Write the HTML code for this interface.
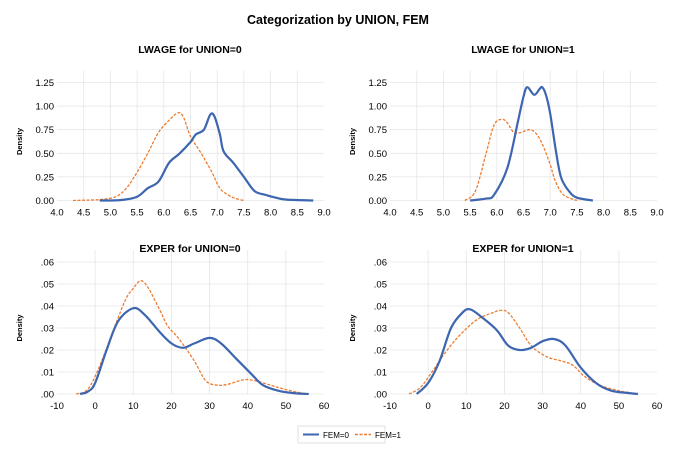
<!DOCTYPE html>
<html><head><meta charset="utf-8"><style>
body{margin:0;background:#fff;font-family:"Liberation Sans",sans-serif;}
svg text{font-family:"Liberation Sans",sans-serif;}
</style></head><body>
<svg id="s" width="677" height="457" xmlns="http://www.w3.org/2000/svg">
<rect width="677" height="457" fill="#fff"/>
<text x="338" y="24" font-size="12.5" font-weight="bold" text-anchor="middle" fill="#000">Categorization by UNION, FEM</text>
<text x="190" y="53" font-size="10.5" font-weight="bold" text-anchor="middle">LWAGE for UNION=0</text>
<text x="523" y="53" font-size="10.5" font-weight="bold" text-anchor="middle">LWAGE for UNION=1</text>
<text x="190" y="252" font-size="10.5" font-weight="bold" text-anchor="middle">EXPER for UNION=0</text>
<text x="523" y="252" font-size="10.5" font-weight="bold" text-anchor="middle">EXPER for UNION=1</text>
<g id="g"></g>
<rect x="298" y="426" width="87" height="17" fill="#fff" stroke="#e0e0e0"/>
<line x1="303" y1="434.5" x2="319" y2="434.5" stroke="#3d66b0" stroke-width="2"/>
<text x="323" y="438" font-size="8">FEM=0</text>
<line x1="355" y1="434.5" x2="371" y2="434.5" stroke="#ed7d31" stroke-width="1.5" stroke-dasharray="3,1.5"/>
<text x="375" y="438" font-size="8">FEM=1</text>
</svg>
<script>
var g=document.getElementById('g'),h='';
function sm(p){var d='M'+p[0][0].toFixed(1)+','+p[0][1].toFixed(1);for(var i=0;i<p.length-1;i++){var a=p[i-1]||p[i],b=p[i],c=p[i+1],e=p[i+2]||c;d+='C'+(b[0]+(c[0]-a[0])/6).toFixed(1)+','+(b[1]+(c[1]-a[1])/6).toFixed(1)+' '+(c[0]-(e[0]-b[0])/6).toFixed(1)+','+(c[1]-(e[1]-b[1])/6).toFixed(1)+' '+c[0].toFixed(1)+','+c[1].toFixed(1);}return d;}
function panel(ox,x0,x1,xt,xs,y0,y1,ymax,yt,yfmt,blue,orange){
 var xl=57+ox,xr=324+ox;
 function X(v){return xl+(v-x0)/(x1-x0)*(xr-xl);}
 function Y(v){return y0-(v/ymax)*(y0-y1);}
 for(var i=0;i<yt.length;i++){var y=Y(yt[i]);h+='<line x1="'+xl+'" x2="'+xr+'" y1="'+y+'" y2="'+y+'" stroke="#e6e6e6" stroke-width="0.8"/>';h+='<text x="'+(xl-3)+'" y="'+(y+3.5)+'" font-size="9.5" text-anchor="end">'+yfmt(yt[i])+'</text>';}
 for(var v=x0;v<=x1+1e-9;v+=xs){var x=X(v);if(v>x0+1e-9&&v<x1-1e-9)h+='<line x1="'+x+'" x2="'+x+'" y1="'+(y1-12)+'" y2="'+y0+'" stroke="#e6e6e6" stroke-width="0.8"/>';h+='<text x="'+x+'" y="'+(y0+15)+'" font-size="9.5" text-anchor="middle">'+xt(v)+'</text>';}
 h+='<text transform="translate('+(ox+22)+','+((y0+y1)/2)+') rotate(-90)" font-size="7.5" font-weight="bold" text-anchor="middle">Density</text>';
 h+='<path d="'+sm(orange.map(function(p){return[X(p[0]),Y(p[1])]}))+'" fill="none" stroke="#ed7d31" stroke-width="1.3" stroke-dasharray="3,1.5"/>';
 h+='<path d="'+sm(blue.map(function(p){return[X(p[0]),Y(p[1])]}))+'" fill="none" stroke="#3d66b0" stroke-width="2.2"/>';
}
var f1=function(v){return v.toFixed(1)},f2=function(v){return v.toFixed(2)},f0=function(v){return Math.round(v)},fe=function(v){return '.0'+Math.round(v*100)};
var yt1=[0,0.25,0.5,0.75,1,1.25],yt2=[0,.01,.02,.03,.04,.05,.06];
panel(0,4,9,f1,0.5,200.5,82.5,1.25,yt1,f2,
[[4.8,0],[5.2,0.005],[5.5,0.04],[5.7,0.13],[5.9,0.2],[6.1,0.4],[6.3,0.5],[6.5,0.62],[6.6,0.7],[6.75,0.75],[6.87,0.91],[6.95,0.89],[7.05,0.7],[7.12,0.52],[7.3,0.4],[7.5,0.25],[7.7,0.1],[7.9,0.06],[8.1,0.03],[8.3,0.01],[8.8,0]],
[[4.3,0],[4.8,0.01],[5.1,0.04],[5.3,0.13],[5.5,0.3],[5.7,0.5],[5.9,0.72],[6.1,0.85],[6.27,0.93],[6.37,0.88],[6.5,0.68],[6.7,0.5],[6.9,0.3],[7.0,0.18],[7.1,0.1],[7.3,0.03],[7.5,0]]);
panel(333,4,9,f1,0.5,200.5,82.5,1.25,yt1,f2,
[[5.5,0],[5.8,0.02],[5.95,0.06],[6.2,0.35],[6.4,0.85],[6.5,1.1],[6.57,1.2],[6.7,1.12],[6.8,1.18],[6.85,1.2],[6.92,1.12],[7.0,0.92],[7.1,0.55],[7.2,0.25],[7.35,0.1],[7.5,0.03],[7.8,0]],
[[5.4,0],[5.6,0.1],[5.8,0.5],[5.95,0.8],[6.1,0.86],[6.2,0.82],[6.32,0.72],[6.45,0.72],[6.6,0.75],[6.72,0.72],[6.85,0.6],[7.0,0.38],[7.1,0.2],[7.25,0.06],[7.5,0]]);
panel(0,-10,60,f0,10,394,262,0.06,yt2,fe,
[[-4,0],[-2,0.001],[0,0.005],[3,0.02],[6,0.033],[10,0.039],[13,0.036],[17,0.028],[20,0.023],[23,0.021],[26,0.023],[30,0.0255],[33,0.023],[37,0.016],[41,0.009],[44,0.004],[48,0.0015],[52,0.0004],[56,0]],
[[-5,0],[-2,0.002],[1,0.012],[5,0.03],[8,0.043],[10,0.048],[12,0.0515],[14,0.048],[17,0.038],[19,0.031],[22,0.025],[26,0.015],[29,0.006],[32,0.004],[35,0.0045],[39,0.0065],[42,0.006],[46,0.004],[50,0.002],[54,0.0005],[56,0]]);
panel(333,-10,60,f0,10,394,262,0.06,yt2,fe,
[[-3,0],[0,0.005],[3,0.015],[6,0.03],[9,0.037],[11,0.0385],[14,0.035],[18,0.029],[21,0.022],[24,0.02],[27,0.021],[30,0.024],[33,0.025],[36,0.022],[40,0.012],[44,0.005],[48,0.0015],[52,0.0005],[55,0]],
[[-5,0],[-2,0.003],[1,0.01],[5,0.02],[9,0.028],[13,0.034],[17,0.037],[19,0.038],[21,0.037],[24,0.03],[27,0.022],[31,0.017],[35,0.015],[38,0.013],[41,0.008],[45,0.004],[50,0.0015],[55,0]]);
g.innerHTML=h;
</script>
</body></html>
